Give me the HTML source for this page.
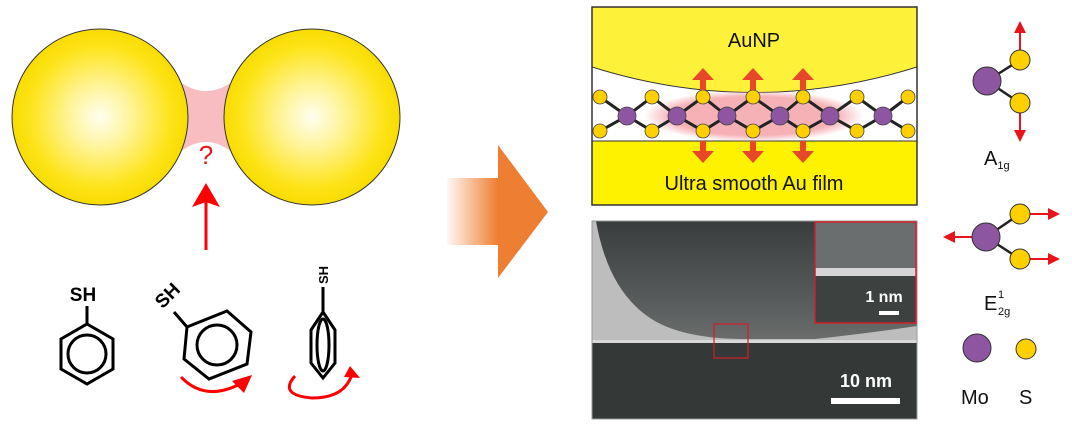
<!DOCTYPE html>
<html><head><meta charset="utf-8"><style>
html,body{margin:0;padding:0;background:#fff;width:1072px;height:432px;overflow:hidden}
svg{display:block}
text{font-family:"Liberation Sans",Arial,sans-serif}
</style></head><body>
<svg width="1072" height="432" viewBox="0 0 1072 432" xmlns="http://www.w3.org/2000/svg">
<defs>
<radialGradient id="au" cx="50%" cy="50%" r="50%">
<stop offset="0" stop-color="#fffef0"/><stop offset="0.35" stop-color="#fff49a"/><stop offset="0.8" stop-color="#fde41a"/><stop offset="1" stop-color="#f8dc00"/>
</radialGradient>
<linearGradient id="fade" x1="0" x2="1">
<stop offset="0" stop-color="#f08030" stop-opacity="0.05"/><stop offset="0.5" stop-color="#ee7f32"/><stop offset="1" stop-color="#ee7f32"/>
</linearGradient>
<radialGradient id="pink" cx="50%" cy="50%" r="50%">
<stop offset="0" stop-color="#f6b1b6"/><stop offset="0.75" stop-color="#f6b1b6"/><stop offset="1" stop-color="#f6b1b6" stop-opacity="0"/>
</radialGradient>
<linearGradient id="tem" x1="0" y1="0" x2="0" y2="1">
<stop offset="0" stop-color="#3a3d3d"/><stop offset="0.6" stop-color="#555858"/><stop offset="1" stop-color="#6a6c6c"/>
</linearGradient>
<clipPath id="tc"><rect x="592" y="221" width="325" height="198"/></clipPath>
<clipPath id="pc"><rect x="592" y="7" width="325" height="198"/></clipPath>
</defs>

<path d="M180,82 Q206,100 232,82 L232,152 Q206,132 180,152 z" fill="#f6b1b6" opacity="0.85"/>
<circle cx="100" cy="117" r="88" fill="url(#au)" stroke="#333" stroke-width="1"/>
<circle cx="312" cy="117" r="88" fill="url(#au)" stroke="#333" stroke-width="1"/>
<text x="206" y="164" font-size="26" fill="#e8141c" text-anchor="middle">?</text>
<line x1="206" y1="250" x2="206" y2="195" stroke="#f00" stroke-width="3"/>
<path d="M192,207 L206,183 L220,207 L206,202 z" fill="#f00"/>

<g stroke="#000" stroke-width="3" fill="none">
<polygon points="87,324 113,339 113,369 87,384 61,369 61,339"/>
<circle cx="87" cy="354" r="19"/>
<line x1="87" y1="324" x2="87" y2="306"/>
<polygon points="187,327 227,311 251,332 247,364 209,379 184,359" />
<circle cx="217" cy="345" r="20"/>
<line x1="187" y1="327" x2="174" y2="312"/>
<polygon points="323,312 335,330 335,363 323,378 311,363 311,330"/>
<ellipse cx="323" cy="345" rx="6" ry="26"/>
<line x1="323" y1="312" x2="323" y2="287"/>
</g>
<text x="83" y="301" font-size="19" font-weight="bold" text-anchor="middle">SH</text>
<text x="0" y="0" font-size="19" font-weight="bold" text-anchor="middle" transform="translate(172,300) rotate(-45)">SH</text>
<text x="0" y="0" font-size="13" font-weight="bold" text-anchor="middle" transform="translate(328,275) rotate(-90)">SH</text>
<g stroke="#f00" stroke-width="3" fill="none">
<path d="M181,377 Q205,402 240,384"/>
<path d="M295,376 Q278,395 312,398 Q345,398 352,374"/>
</g>
<path d="M232,381 L252,375 L244,393 z" fill="#f00"/>
<path d="M344,377 L350,366 L360,378 z" fill="#f00"/>

<path d="M447,178 L498,178 L498,145 L548,212 L498,278 L498,245 L447,245 z" fill="url(#fade)"/>

<g clip-path="url(#pc)">
<rect x="592" y="7" width="325" height="198" fill="#fff"/>
<path d="M592,7 L917,7 L917,67 Q754,118 592,67 z" fill="#fef13a" stroke="#333" stroke-width="1"/>
<rect x="592" y="141" width="325" height="64" fill="#fff200" stroke="#333" stroke-width="1"/>
<ellipse cx="754" cy="116" rx="110" ry="26" fill="url(#pink)"/>
<g stroke="#222" stroke-width="3">
<polyline points="600,97 627,116 652,97 677,116 703,97 727,116 753,97 780,116 803,97 830,116 857,97 883,116 908,97" fill="none"/>
<polyline points="600,131 627,116 652,131 677,116 703,131 727,116 753,131 780,116 803,131 830,116 857,131 883,116 908,131" fill="none"/>
</g>
<g fill="#8e55a0" stroke="#444" stroke-width="0.8">
<circle cx="627" cy="116" r="9"/><circle cx="677" cy="116" r="9"/><circle cx="727" cy="116" r="9"/><circle cx="780" cy="116" r="9"/><circle cx="830" cy="116" r="9"/><circle cx="883" cy="116" r="9"/>
</g>
<g fill="#fed000" stroke="#444" stroke-width="0.8">
<circle cx="600" cy="97" r="7"/><circle cx="652" cy="97" r="7"/><circle cx="703" cy="97" r="7"/><circle cx="753" cy="97" r="7"/><circle cx="803" cy="97" r="7"/><circle cx="857" cy="97" r="7"/><circle cx="908" cy="97" r="7"/>
<circle cx="600" cy="131" r="7"/><circle cx="652" cy="131" r="7"/><circle cx="703" cy="131" r="7"/><circle cx="753" cy="131" r="7"/><circle cx="803" cy="131" r="7"/><circle cx="857" cy="131" r="7"/><circle cx="908" cy="131" r="7"/>
</g>
<g fill="#e8482a">
<g id="ua"><rect x="700" y="78" width="6" height="12"/><path d="M692,80 L703,68 L714,80 z"/><rect x="700" y="141" width="6" height="12"/><path d="M692,151 L703,163 L714,151 z"/></g>
<use href="#ua" x="50"/><use href="#ua" x="100"/>
</g>
<text x="754" y="47" font-size="20" text-anchor="middle" fill="#111">AuNP</text>
<text x="754" y="190" font-size="20" text-anchor="middle" fill="#111">Ultra smooth Au film</text>
</g>
<rect x="592" y="7" width="325" height="198" fill="none" stroke="#333" stroke-width="1.5"/>

<g clip-path="url(#tc)">
<rect x="592" y="221" width="325" height="198" fill="#bdbdbd"/>
<path d="M596,221 Q608,290 650,318 Q680,338 740,339 L815,339 Q870,333 917,326 L917,221 z" fill="url(#tem)"/>
<rect x="592" y="343" width="325" height="76" fill="#343837"/>
<rect x="592" y="340" width="325" height="3" fill="#d8d8d8"/>
<rect x="815" y="222" width="102" height="101" fill="#6b6e6e"/>
<rect x="815" y="268" width="102" height="8" fill="#d5d5d5"/>
<rect x="815" y="276" width="102" height="47" fill="#3d4140"/>
</g>
<rect x="592" y="221" width="325" height="198" fill="none" stroke="#999" stroke-width="1"/>
<rect x="815" y="222" width="101" height="101" fill="none" stroke="#d0202a" stroke-width="1.5"/>
<rect x="714" y="324" width="34" height="34" fill="none" stroke="#d0202a" stroke-width="1.2"/>
<text x="866" y="387" font-size="18" font-weight="bold" fill="#fff" text-anchor="middle">10 nm</text>
<rect x="831" y="398" width="69" height="6" fill="#fff"/>
<text x="884" y="302" font-size="16" font-weight="bold" fill="#fff" text-anchor="middle">1 nm</text>
<rect x="879" y="311" width="20" height="4" fill="#fff"/>

<g stroke="#222" stroke-width="2.5"><line x1="987" y1="81" x2="1020" y2="60"/><line x1="987" y1="81" x2="1020" y2="103"/>
<line x1="986" y1="237" x2="1020" y2="214"/><line x1="986" y1="237" x2="1020" y2="259"/></g>
<g stroke="#e8141c" stroke-width="2">
<line x1="1020" y1="52" x2="1020" y2="30"/><line x1="1020" y1="111" x2="1020" y2="133"/>
<line x1="972" y1="237" x2="953" y2="237"/><line x1="1030" y1="214" x2="1050" y2="214"/><line x1="1030" y1="259" x2="1050" y2="259"/>
</g>
<g fill="#e8141c">
<path d="M1014,33 L1020,21 L1026,33 z"/><path d="M1014,130 L1020,142 L1026,130 z"/>
<path d="M955,231 L943,237 L955,243 z"/><path d="M1048,208 L1060,214 L1048,220 z"/><path d="M1048,253 L1060,259 L1048,265 z"/>
</g>
<g fill="#8e55a0" stroke="#333" stroke-width="1">
<circle cx="987" cy="81" r="14"/><circle cx="986" cy="237" r="14"/><circle cx="977" cy="348" r="14"/>
</g>
<g fill="#fed000" stroke="#333" stroke-width="1">
<circle cx="1020" cy="60" r="10"/><circle cx="1020" cy="103" r="10"/>
<circle cx="1020" cy="214" r="10"/><circle cx="1020" cy="259" r="10"/><circle cx="1026" cy="349" r="10"/>
</g>
<text x="984" y="165" font-size="20" fill="#111">A<tspan font-size="11" dy="4">1g</tspan></text>
<text x="984" y="310" font-size="20" fill="#111">E</text>
<text x="998" y="298" font-size="11" fill="#111">1</text>
<text x="998" y="315" font-size="11" fill="#111">2g</text>
<text x="961" y="404" font-size="20" fill="#111">Mo</text>
<text x="1019" y="404" font-size="20" fill="#111">S</text>
</svg>
</body></html>
